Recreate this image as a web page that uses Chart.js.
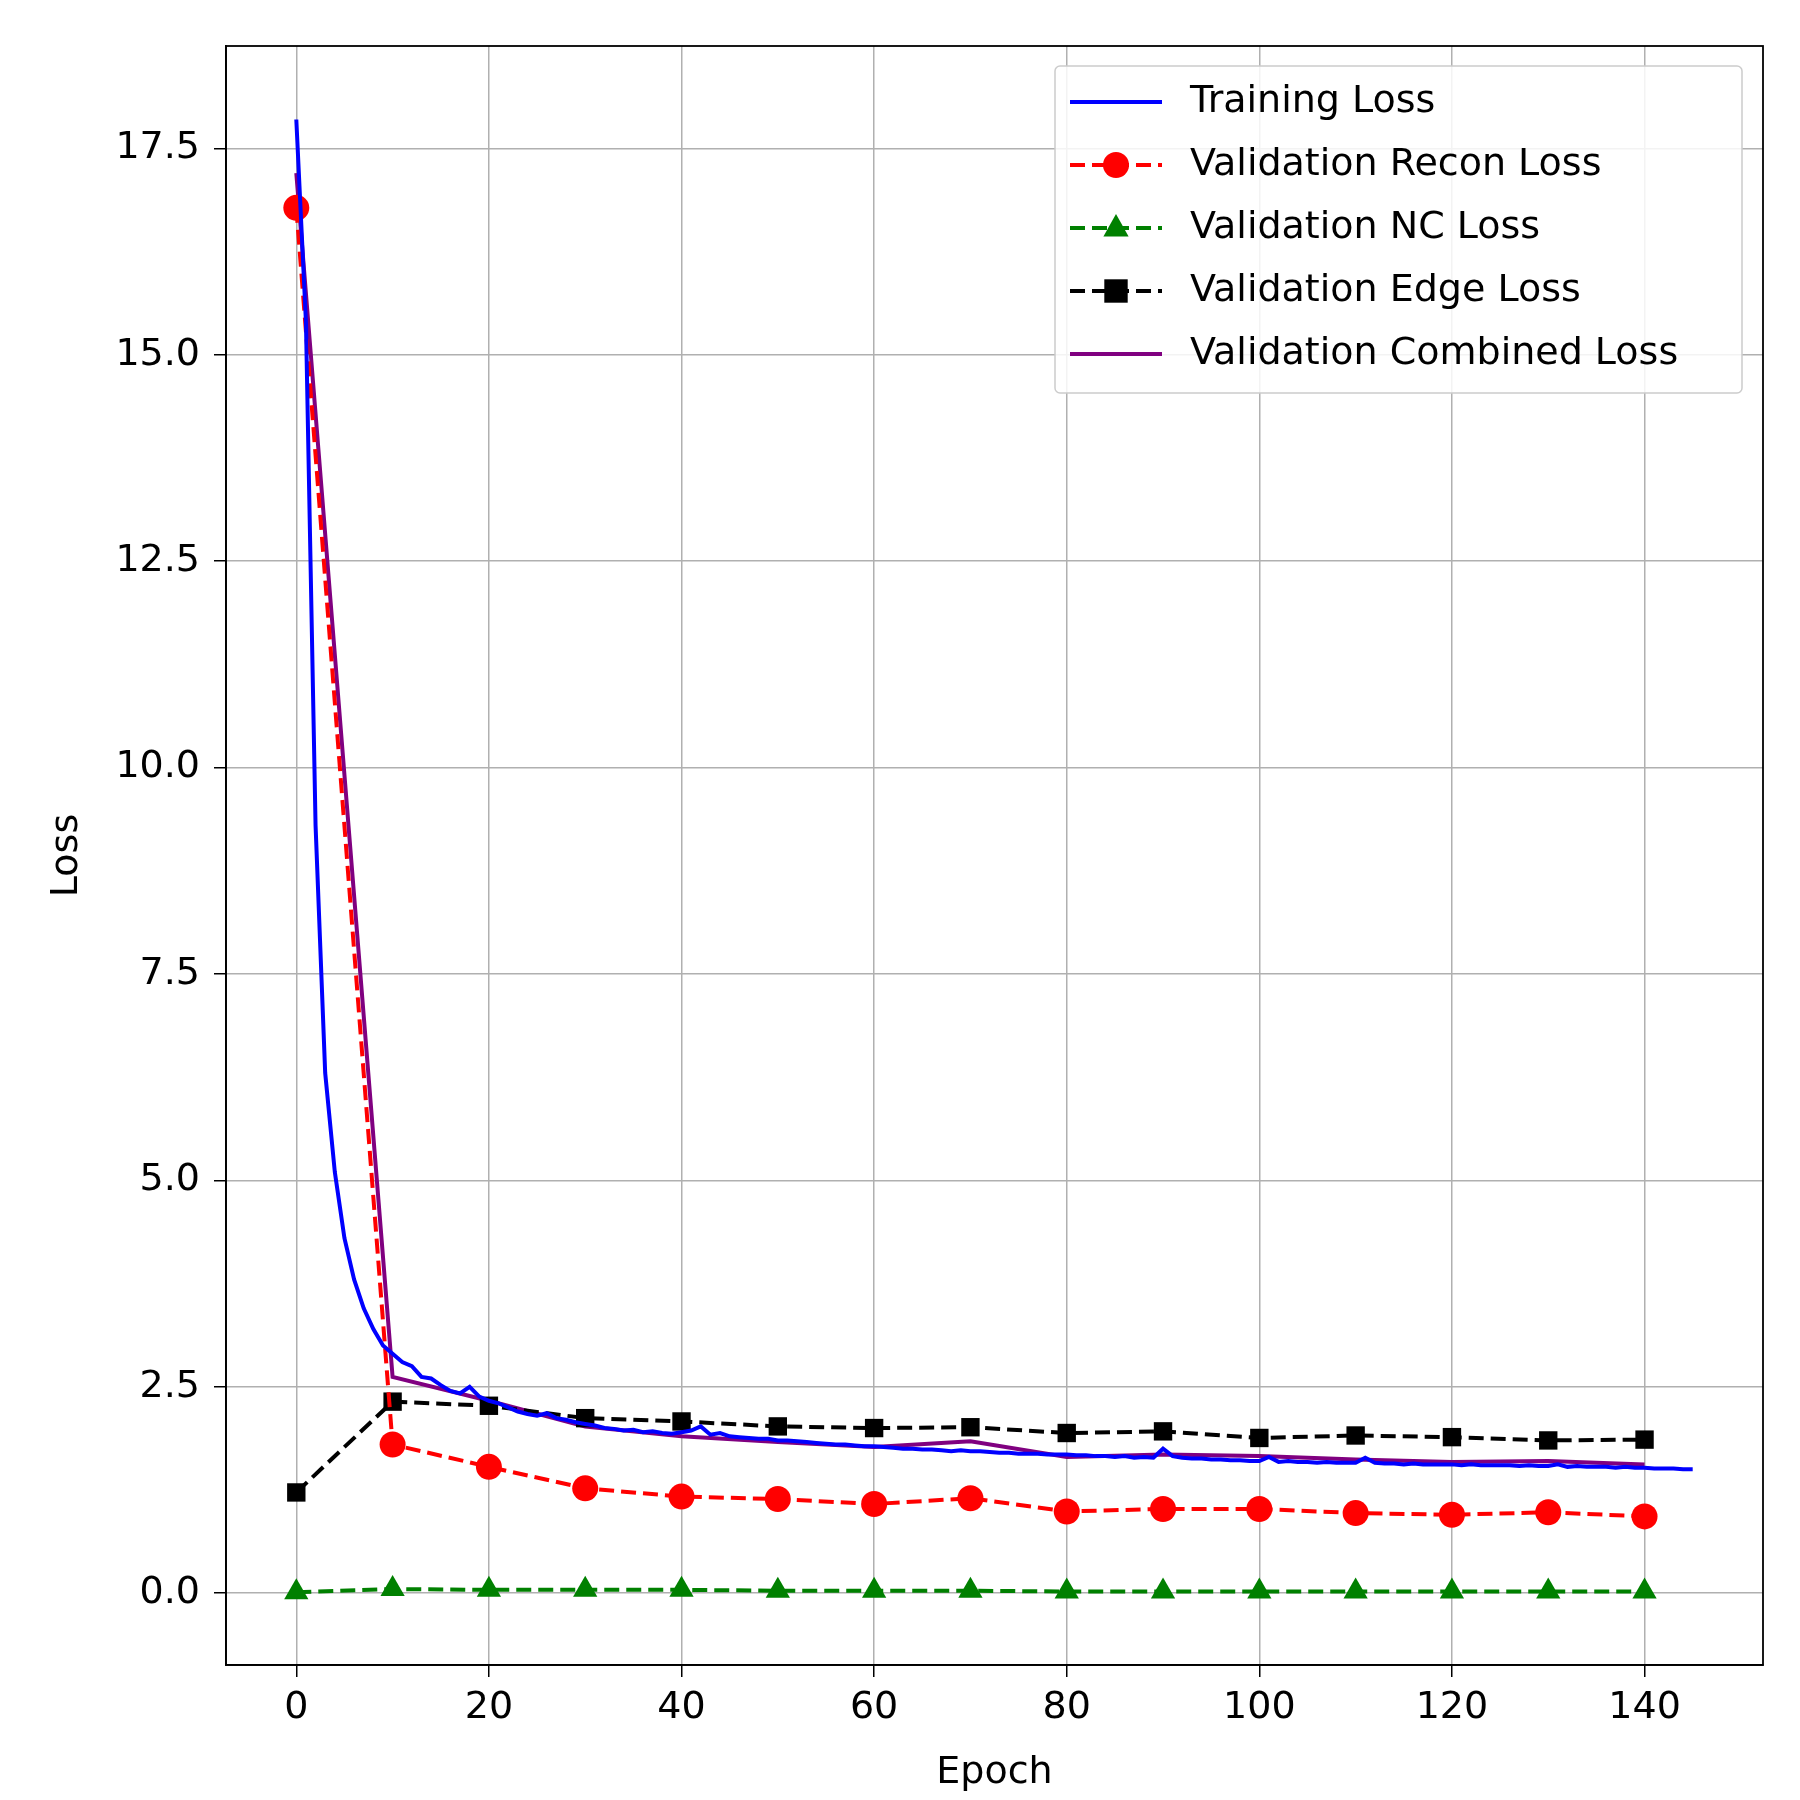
<!DOCTYPE html>
<html>
<head>
<meta charset="utf-8">
<script src="https://cdn.jsdelivr.net/npm/chart.js@4"></script>
<style>body{margin:0;background:#fff}canvas{display:block}</style>
</head>
<body>
<canvas id="c" width="1800" height="1800"></canvas>
<script>
// training loss, one value per epoch 0..145
const trainLoss = [
  17.85,15.4,9.3,6.3,5.1,4.3,3.8,3.45,3.2,3.0,
  2.9,2.8,2.75,2.62,2.6,2.52,2.45,2.42,2.5,2.38,
  2.33,2.3,2.25,2.2,2.17,2.15,2.18,2.12,2.1,2.07,
  2.05,2.03,2.0,1.99,1.97,1.98,1.95,1.96,1.94,1.93,
  1.95,1.97,2.02,1.92,1.94,1.9,1.89,1.88,1.87,1.87,
  1.85,1.85,1.84,1.83,1.82,1.81,1.8,1.8,1.79,1.78,
  1.78,1.77,1.76,1.75,1.75,1.74,1.74,1.73,1.72,1.73,
  1.72,1.72,1.71,1.7,1.7,1.69,1.69,1.69,1.68,1.68,
  1.68,1.67,1.67,1.66,1.66,1.65,1.66,1.64,1.65,1.64,
  1.75,1.66,1.64,1.63,1.63,1.62,1.62,1.61,1.61,1.6,
  1.6,1.65,1.59,1.6,1.59,1.59,1.58,1.59,1.58,1.58,
  1.58,1.64,1.58,1.57,1.57,1.56,1.57,1.56,1.56,1.56,
  1.56,1.55,1.56,1.55,1.55,1.55,1.55,1.54,1.55,1.54,
  1.54,1.56,1.53,1.54,1.53,1.53,1.53,1.52,1.53,1.52,
  1.52,1.51,1.51,1.51,1.5,1.5
];
const valEpochs = [0,10,20,30,40,50,60,70,80,90,100,110,120,130,140];
const valRecon = [16.78,1.8,1.53,1.27,1.17,1.14,1.08,1.15,0.99,1.02,1.02,0.97,0.95,0.98,0.93];
const valNC = [0.01,0.05,0.04,0.04,0.04,0.03,0.03,0.03,0.02,0.02,0.02,0.02,0.02,0.02,0.02];
const valEdge = [1.22,2.32,2.27,2.12,2.08,2.02,2.0,2.01,1.94,1.96,1.88,1.91,1.89,1.85,1.86];
const valCombined = [17.2,2.62,2.33,2.02,1.9,1.83,1.77,1.84,1.65,1.68,1.66,1.62,1.59,1.6,1.56];
const xTicks = [0,20,40,60,80,100,120,140];
const yTicks = [0,2.5,5,7.5,10,12.5,15,17.5];

const FONT = 'DejaVu Sans';
const FS = 38;
const pts = (xs, ys) => xs.map((x, i) => ({x: x, y: ys[i]}));

const datasets = [
  {label:'Training Loss', data: trainLoss.map((v, i) => ({x: i, y: v})), borderColor:'#0000ff', pointRadius:0},
  {label:'Validation Recon Loss', data: pts(valEpochs, valRecon), borderColor:'#ff0000', backgroundColor:'#ff0000', borderDash:[15,7], pointStyle:'circle', pointRadius:13},
  {label:'Validation NC Loss', data: pts(valEpochs, valNC), borderColor:'#008000', backgroundColor:'#008000', borderDash:[15,7], pointStyle:'triangle', pointRadius:14},
  {label:'Validation Edge Loss', data: pts(valEpochs, valEdge), borderColor:'#000000', backgroundColor:'#000000', borderDash:[15,7], pointStyle:'rect', pointRadius:13},
  {label:'Validation Combined Loss', data: pts(valEpochs, valCombined), borderColor:'#800080', pointRadius:0}
];
datasets.forEach(d => { d.fill = false; d.tension = 0; d.pointBorderWidth = 0; d.borderWidth = 4; });

// frame around plot + legend box in the top right
const frameLegend = {
  id: 'frameLegend',
  afterDraw(chart) {
    const ctx = chart.ctx, a = chart.chartArea;
    ctx.save();
    ctx.strokeStyle = '#000'; ctx.lineWidth = 1.8; ctx.setLineDash([]);
    ctx.strokeRect(a.left, a.top, a.right - a.left, a.bottom - a.top);

    const bx = 1055, by = 66, bw = 687, bh = 327, rowH = 63;
    ctx.fillStyle = 'rgba(255,255,255,0.85)';
    ctx.strokeStyle = '#cccccc'; ctx.lineWidth = 1.5;
    ctx.beginPath(); ctx.roundRect(bx, by, bw, bh, 5); ctx.fill(); ctx.stroke();
    ctx.font = FS + 'px ' + FONT; ctx.textBaseline = 'middle';
    datasets.forEach((d, i) => {
      const y = by + 36 + i * rowH;
      ctx.strokeStyle = d.borderColor; ctx.lineWidth = 4;
      ctx.setLineDash(d.borderDash || []);
      ctx.beginPath(); ctx.moveTo(1070, y); ctx.lineTo(1162, y); ctx.stroke();
      ctx.setLineDash([]);
      if (d.pointRadius) {
        ctx.fillStyle = d.backgroundColor;
        const cx = 1116, r = d.pointRadius;
        ctx.beginPath();
        if (d.pointStyle === 'circle') ctx.arc(cx, y, r, 0, Math.PI * 2);
        else if (d.pointStyle === 'rect') ctx.rect(cx - r * 0.9, y - r * 0.9, r * 1.8, r * 1.8);
        else { ctx.moveTo(cx, y - r); ctx.lineTo(cx + r * 0.9, y + r * 0.6); ctx.lineTo(cx - r * 0.9, y + r * 0.6); ctx.closePath(); }
        ctx.fill();
      }
      ctx.fillStyle = '#000';
      ctx.fillText(d.label, 1190, y);
    });
    ctx.restore();
  }
};

new Chart(document.getElementById('c'), {
  type: 'line',
  data: {datasets: datasets},
  options: {
    responsive: false,
    animation: false,
    devicePixelRatio: 1,
    layout: {padding: {top: 46, right: 37, left: 44, bottom: 0}},
    plugins: {legend: {display: false}, tooltip: {enabled: false}},
    scales: {
      x: {
        type: 'linear', min: -7.3, max: 152.3,
        afterBuildTicks: s => { s.ticks = xTicks.map(v => ({value: v})); },
        afterFit: s => { s.height = 135; },
        grid: {color: '#b0b0b0', lineWidth: 1.5, tickLength: 12, tickColor: '#000'},
        border: {color: '#000', width: 1.8},
        ticks: {color: '#000', font: {family: FONT, size: FS}, padding: 8, maxRotation: 0},
        title: {display: true, text: 'Epoch', color: '#000', font: {family: FONT, size: FS}, padding: {top: 0, bottom: 4}}
      },
      y: {
        type: 'linear', min: -0.87, max: 18.74,
        afterBuildTicks: s => { s.ticks = yTicks.map(v => ({value: v})); },
        afterFit: s => { s.width = 182; },
        grid: {color: '#b0b0b0', lineWidth: 1.5, tickLength: 12, tickColor: '#000'},
        border: {color: '#000', width: 1.8},
        ticks: {color: '#000', font: {family: FONT, size: FS}, padding: 14, callback: v => v.toFixed(1)},
        title: {display: true, text: 'Loss', color: '#000', font: {family: FONT, size: FS}, padding: 0}
      }
    }
  },
  plugins: [frameLegend]
});
</script>
</body>
</html>
